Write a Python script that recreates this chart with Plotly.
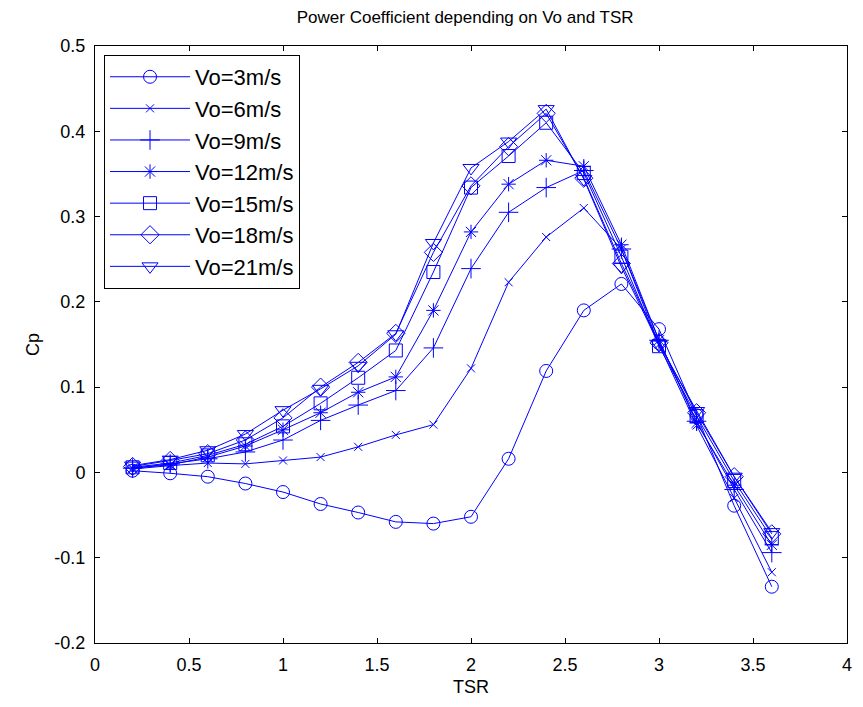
import plotly.graph_objects as go

tsr = [0.2, 0.4, 0.6, 0.8, 1.0, 1.2, 1.4, 1.6, 1.8, 2.0, 2.2, 2.4, 2.6, 2.8, 3.0, 3.2, 3.4, 3.6]

labels = ["Vo=3m/s", "Vo=6m/s", "Vo=9m/s", "Vo=12m/s", "Vo=15m/s", "Vo=18m/s", "Vo=21m/s"]

cp_3 = [0.002, -0.001, -0.005, -0.013, -0.023, -0.037, -0.047, -0.058, -0.060, -0.052,
        0.016, 0.119, 0.190, 0.221, 0.168, 0.067, -0.039, -0.134]
cp_6 = [0.004, 0.008, 0.011, 0.010, 0.014, 0.018, 0.030, 0.044, 0.056, 0.122,
        0.223, 0.276, 0.310, 0.262, 0.150, 0.055, -0.030, -0.117]
cp_9 = [0.005, 0.010, 0.016, 0.024, 0.038, 0.061, 0.079, 0.096, 0.146, 0.239,
        0.305, 0.334, 0.354, 0.262, 0.155, 0.060, -0.020, -0.094]
cp_12 = [0.005, 0.009, 0.018, 0.031, 0.050, 0.070, 0.094, 0.112, 0.190, 0.282,
         0.338, 0.366, 0.359, 0.267, 0.155, 0.058, -0.015, -0.085]
cp_15 = [0.006, 0.011, 0.020, 0.033, 0.054, 0.081, 0.111, 0.143, 0.235, 0.334,
         0.371, 0.410, 0.351, 0.253, 0.148, 0.066, -0.010, -0.077]
cp_18 = [0.007, 0.014, 0.022, 0.038, 0.064, 0.100, 0.129, 0.163, 0.258, 0.336,
         0.382, 0.421, 0.345, 0.245, 0.152, 0.070, -0.005, -0.072]
cp_21 = [0.008, 0.015, 0.026, 0.045, 0.073, 0.098, 0.125, 0.162, 0.269, 0.357,
         0.388, 0.426, 0.344, 0.241, 0.150, 0.072, -0.005, -0.070]

series = [cp_3, cp_6, cp_9, cp_12, cp_15, cp_18, cp_21]
symbols = ["circle-open", "x-thin-open", "cross-thin-open", "asterisk-open",
           "square-open", "diamond-open", "triangle-down-open"]
sizes = [13, 8, 14, 12, 13, 14, 14]

FONT = "Liberation Sans, Arial, sans-serif"

fig = go.Figure()
for name, ys, sym, sz in zip(labels, series, symbols, sizes):
    fig.add_trace(go.Scatter(
        x=tsr, y=ys, name=name, mode="lines+markers",
        line=dict(color="#0000FF", width=1),
        marker=dict(symbol=sym, size=sz, color="#0000FF",
                    line=dict(color="#0000FF", width=1)),
    ))

axis_common = dict(
    showgrid=False, zeroline=False, showline=True, linecolor="black", linewidth=1,
    mirror="ticks", ticks="inside", ticklen=5, tickcolor="black",
    tickfont=dict(family=FONT, size=18, color="black"),
    ticklabelstandoff=5,
)

fig.update_layout(
    width=863, height=707,
    paper_bgcolor="white", plot_bgcolor="white",
    margin=dict(l=95, r=11, t=46, b=64),
    title=dict(text="Power Coefficient depending on Vo and TSR",
               x=0.539, xanchor="center", y=0.976, yanchor="middle",
               font=dict(family=FONT, size=17, color="black")),
    xaxis=dict(range=[0, 4], tickvals=[0, 0.5, 1, 1.5, 2, 2.5, 3, 3.5, 4],
               ticktext=["0", "0.5", "1", "1.5", "2", "2.5", "3", "3.5", "4"],
               title=dict(text="TSR", standoff=6,
                          font=dict(family=FONT, size=18, color="black")),
               **axis_common),
    yaxis=dict(range=[-0.2, 0.5], tickvals=[-0.2, -0.1, 0, 0.1, 0.2, 0.3, 0.4, 0.5],
               ticktext=["-0.2", "-0.1", "0", "0.1", "0.2", "0.3", "0.4", "0.5"],
               title=dict(text="Cp", standoff=10,
                          font=dict(family=FONT, size=18, color="black")),
               **axis_common),
    legend=dict(x=0.012, y=0.985, xanchor="left", yanchor="top",
                bgcolor="white", bordercolor="black", borderwidth=1,
                font=dict(family=FONT, size=22, color="black"),
                tracegroupgap=0, itemwidth=80),
    showlegend=True,
)

fig.write_html("out.html")
